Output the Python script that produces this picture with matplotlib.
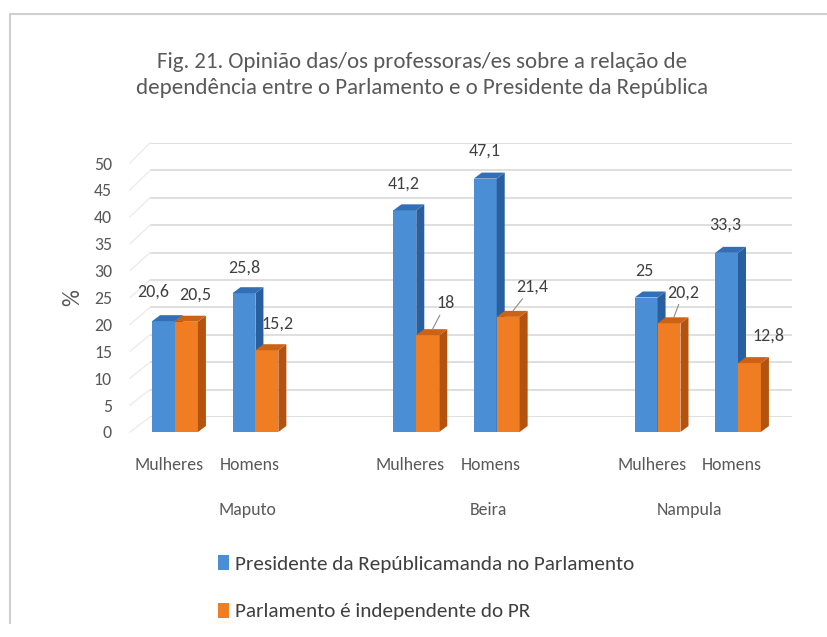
import matplotlib
matplotlib.use("Agg")
import matplotlib.pyplot as plt
from matplotlib import font_manager
from matplotlib.patches import Polygon, Patch
from matplotlib.lines import Line2D
from matplotlib.transforms import blended_transform_factory

# ---------------- data ----------------
cities = ["Maputo", "Beira", "Nampula"]
genders = ["Mulheres", "Homens"]
series_names = ["Presidente da Repúblicamanda no Parlamento",
                "Parlamento é independente do PR"]
pr_manda = [20.6, 25.8, 41.2, 47.1, 25.0, 33.3]
parl_indep = [20.5, 15.2, 18.0, 21.4, 20.2, 12.8]
label_pr = ["20,6", "25,8", "41,2", "47,1", "25", "33,3"]
label_parl = ["20,5", "15,2", "18", "21,4", "20,2", "12,8"]
yticks = list(range(0, 55, 5))
title = ("Fig. 21. Opinião das/os professoras/es sobre a relação de\n"
         "dependência entre o Parlamento e o Presidente da República")

# ---------------- style ----------------
names = {f.name for f in font_manager.fontManager.ttflist}
fam = next((f for f in ["Carlito", "Lato", "Open Sans"] if f in names), "DejaVu Sans")
plt.rcParams["font.family"] = [fam, "DejaVu Sans"]

W, H = 827, 637
fig = plt.figure(figsize=(W / 100, H / 100), dpi=100)
fig.patch.set_facecolor("white")

def fx(px):
    return px / W

def fy(py):
    return 1 - py / H

TXT = "#595959"
LBL = "#404040"
BLUE = ("#4A8FD6", "#336FB6", "#2A5F9E")     # front, top, side
ORANGE = ("#F07D22", "#CC6214", "#B3530F")

# positions of the categories (empty slot between cities)
positions = [0, 1, 3, 4, 6, 7]
w = 0.285

# back wall (gridlines)
bg = fig.add_axes([fx(150), fy(417), (792 - 150) / W, (417 - 143) / H], zorder=0)
bg.set_ylim(0, 50)
bg.axis("off")
bg.hlines(yticks, 0, 1, transform=bg.get_yaxis_transform(), color="#d9d9d9", lw=1.2)

# front axes (bars)
ax = fig.add_axes([fx(130), fy(432), (780 - 130) / W, (432 - 163) / H], zorder=2)
ax.patch.set_alpha(0)
ax.set_ylim(0, 50)
x_lo = -(175 - 130) / 80.43
x_hi = 7 + (780 - 738) / 80.43
ax.set_xlim(x_lo, x_hi)
for s in ax.spines.values():
    s.set_visible(False)
ax.set_xticks([])
ax.set_yticks(yticks)
ax.tick_params(axis="y", length=0, pad=13, labelsize=12.8, labelcolor=TXT)

# diagonal side-wall lines
inv = fig.transFigure.inverted()
for v in yticks:
    p_front = inv.transform(ax.transData.transform((x_lo, v)))
    p_back = inv.transform(blended_transform_factory(bg.transAxes, bg.transData).transform((0, v)))
    fig.add_artist(Line2D([p_front[0], p_back[0]], [p_front[1], p_back[1]],
                          transform=fig.transFigure, color="#ececec", lw=1.0, zorder=1))

# 3D depth in data units
dxd = 8 / 80.43
dyd = 6 / (269 / 50)

def draw_3d(bars, cols, z):
    for r in bars:
        x0 = r.get_x()
        x1 = x0 + r.get_width()
        h = r.get_height()
        top = Polygon([(x0, h), (x1, h), (x1 + dxd, h + dyd), (x0 + dxd, h + dyd)],
                      closed=True, facecolor=cols[1], edgecolor="none", zorder=z)
        side = Polygon([(x1, 0), (x1 + dxd, dyd), (x1 + dxd, h + dyd), (x1, h)],
                       closed=True, facecolor=cols[2], edgecolor="none", zorder=z)
        ax.add_patch(side)
        ax.add_patch(top)

b_pr = ax.bar([p - w for p in positions], pr_manda, width=w, align="edge",
              color=BLUE[0], zorder=3, clip_on=False)
draw_3d(b_pr, BLUE, 3)
b_pa = ax.bar(positions, parl_indep, width=w, align="edge",
              color=ORANGE[0], zorder=4, clip_on=False)
draw_3d(b_pa, ORANGE, 4)

# data labels (offsets in px: dx, dy)
off_pr = [(-10, 30), (0, 26), (-1, 27), (-1, 28), (-1.5, 27), (-1, 28)]
off_pa = [(4.5, 27), (5.5, 27), (13.5, 32), (19, 30), (9.5, 31), (14, 28)]
leader = [False, False, True, True, True, False]

for r, t, (ox, oy) in zip(b_pr, label_pr, off_pr):
    xc = r.get_x() + r.get_width() / 2
    ax.annotate(t, (xc, r.get_height()), xytext=(ox * 0.72, oy * 0.72),
                textcoords="offset points", ha="center", va="center",
                fontsize=13, color=LBL, zorder=6, annotation_clip=False)
for r, t, (ox, oy), ld in zip(b_pa, label_parl, off_pa, leader):
    xc = r.get_x() + r.get_width() / 2
    kw = {}
    if ld:
        kw["arrowprops"] = dict(arrowstyle="-", color="#8c8c8c", lw=0.8,
                                shrinkA=1, shrinkB=0)
    ax.annotate(t, (xc + dxd * 0.6, r.get_height() + dyd), xytext=(ox * 0.72, (oy - 6) * 0.72),
                textcoords="offset points", ha="center", va="center",
                fontsize=13, color=LBL, zorder=6, annotation_clip=False, **kw)

# category labels
tr = blended_transform_factory(ax.transData, fig.transFigure)
shift = 6 / 80.43
for i, p in enumerate(positions):
    ax.text(p - shift, fy(465), genders[i % 2], transform=tr, ha="center", va="center",
            fontsize=12.8, color=TXT)
group_x = [0.895, 3.90, 6.40]
for gx, c in zip(group_x, cities):
    ax.text(gx, fy(510), c, transform=tr, ha="center", va="center",
            fontsize=12.8, color=TXT)

# y label
fig.text(fx(73), fy(298), "%", rotation=90, ha="center", va="center",
         fontsize=17, color=TXT)

# title
fig.text(fx(422), fy(75), title, ha="center", va="center", fontsize=16.5,
         color=TXT, linespacing=1.4)

# legend
handles = [Patch(facecolor=BLUE[0], edgecolor="none"),
           Patch(facecolor=ORANGE[0], edgecolor="none")]
fig.legend(handles, series_names, loc="upper left",
           bbox_to_anchor=(fx(218), fy(555)), frameon=False,
           fontsize=15.3, handlelength=0.5, handleheight=0.7,
           handletextpad=0.3, labelspacing=1.4, labelcolor=LBL,
           borderaxespad=0, borderpad=0)

# chart border (top and left visible in crop)
fig.add_artist(Line2D([fx(10), fx(10), fx(827)], [fy(623), fy(14), fy(14)],
                      transform=fig.transFigure, color="#cfcfcf", lw=1.5))

fig.savefig("out.png", dpi=100, facecolor="white")
